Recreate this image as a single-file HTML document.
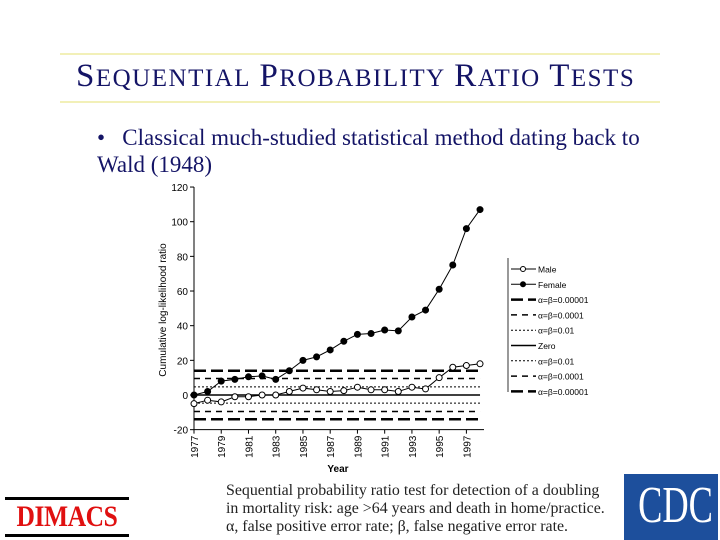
<!DOCTYPE html>
<html><head><meta charset="utf-8"><style>
body{margin:0;width:720px;height:540px;background:#fff;overflow:hidden;position:relative;font-family:"Liberation Serif",serif}
.ab{position:absolute}
.cap{font-size:33px}
.sm{font-size:25px}
</style></head><body>
<div class="ab" style="left:60px;top:53px;width:600px;height:2px;background:#f2f0b8"></div>
<div class="ab" style="left:60px;top:101px;width:600px;height:2px;background:#f2f0b8"></div>
<div class="ab" style="left:76px;top:57px;color:#141466;white-space:nowrap;line-height:38px;letter-spacing:1.5px;word-spacing:3px"><span class="cap">S</span><span class="sm">EQUENTIAL</span> <span class="cap">P</span><span class="sm">ROBABILITY</span> <span class="cap">R</span><span class="sm">ATIO</span> <span class="cap">T</span><span class="sm">ESTS</span></div>
<div class="ab" style="left:97px;top:124px;font-size:23px;color:#141466;line-height:27px;white-space:nowrap">•&nbsp;&nbsp; Classical much-studied statistical method dating back to<br>Wald (1948)</div>

<svg class="ab" style="left:0;top:0" width="720" height="540">
<g id="chart" font-family="Liberation Sans, sans-serif"></g>
</svg>

<div class="ab" style="left:226px;top:482px;font-size:15.9px;line-height:18px;color:#222;white-space:nowrap">Sequential probability ratio test for detection of a doubling<br>in mortality risk: age &gt;64 years and death in home/practice.<br>α, false positive error rate; β, false negative error rate.</div>

<div class="ab" style="left:5px;top:497px;width:124px;height:40px">
<div style="position:absolute;top:0;left:0;width:124px;height:3px;background:#000"></div>
<div style="position:absolute;top:4px;left:0;width:124px;text-align:center;font-size:30px;color:#e01010;font-weight:bold;line-height:32px;letter-spacing:-0.5px;transform:scaleX(0.85)">DIMACS</div>
<div style="position:absolute;top:37px;left:0;width:124px;height:3px;background:#000"></div>
</div>
<div class="ab" style="left:624px;top:474px;width:94px;height:66px;background:#1d4f9c;overflow:hidden">
<div style="position:absolute;left:0;top:2px;width:94px;text-align:center;font-size:52px;color:#fff;font-family:'Liberation Serif',serif;transform:scaleX(0.7);line-height:60px">CDC</div>
</div>

<script>
const years=[1977,1978,1979,1980,1981,1982,1983,1984,1985,1986,1987,1988,1989,1990,1991,1992,1993,1994,1995,1996,1997,1998];
const female=[0,2,8,9,10.5,11,9,14,20,22,26,31,35,35.5,37.5,37,45,49,61,75,96,107];
const male=[-5,-3,-4,-1,-1,0,0,2,4,3,2,2.5,4.5,3,3,2,4.5,3.5,10,16,17,18];
const thresholds=[14,9.5,4.7,0,-4.7,-9.5,-14];
const yTicks=[120,100,80,60,40,20,0,-20];
const xTickLabels=[1977,1979,1981,1983,1985,1987,1989,1991,1993,1995,1997];
const legendLabels=["Male","Female","α=β=0.00001","α=β=0.0001","α=β=0.01","Zero","α=β=0.01","α=β=0.0001","α=β=0.00001"];
const NS="http://www.w3.org/2000/svg";
const g=document.getElementById('chart');
const X=y=>194+(y-1977)*13.62;
const Y=v=>395-v*1.733;
function mk(t,a){const e=document.createElementNS(NS,t);for(const k in a)e.setAttribute(k,a[k]);g.appendChild(e);return e;}
const styles=[{w:2.5,d:"12,5"},{w:1.5,d:"6,5"},{w:1,d:"2,2"},{w:1.5,d:""},{w:1,d:"2,2"},{w:1.5,d:"6,5"},{w:2.5,d:"12,5"}];
let e=mk('line',{x1:194,y1:Y(120),x2:194,y2:Y(-20),stroke:'#000','stroke-width':1});

e=mk('line',{x1:194,y1:Y(-20),x2:484,y2:Y(-20),stroke:'#000','stroke-width':1});

yTicks.forEach(v=>{mk('line',{x1:190,y1:Y(v),x2:194,y2:Y(v),stroke:'#000'});
 e=mk('text',{x:188,y:Y(v)+4,'text-anchor':'end','font-size':10});e.textContent=v;
 });
xTickLabels.forEach(v=>{mk('line',{x1:X(v),y1:Y(-20),x2:X(v),y2:Y(-20)+4,stroke:'#000'});
 e=mk('text',{x:X(v)+4,y:Y(-20)+6,'text-anchor':'end','font-size':10,transform:`rotate(-90 ${X(v)+4} ${Y(-20)+6})`});e.textContent=v;
 });
e=mk('text',{x:338,y:472,'text-anchor':'middle','font-size':10,'font-weight':'bold'});e.textContent='Year';

e=mk('text',{x:166,y:310,'text-anchor':'middle','font-size':10,transform:'rotate(-90 166 310)'});e.textContent='Cumulative log-likelihood ratio';

thresholds.forEach((t,i)=>{e=mk('line',{x1:194,y1:Y(t),x2:X(1998),y2:Y(t),stroke:'#000','stroke-width':styles[i].w,'stroke-dasharray':styles[i].d});
 });
function series(vals,fill,name){
 e=mk('polyline',{points:vals.map((v,i)=>X(years[i])+','+Y(v)).join(' '),fill:'none',stroke:'#000','stroke-width':1});
 
 vals.forEach((v,i)=>{e=mk('circle',{cx:X(years[i]),cy:Y(v),r:3,fill:fill,stroke:'#000','stroke-width':1});
  });
}
series(male,'#fff','male');series(female,'#000','female');
e=mk('line',{x1:508,y1:258,x2:508,y2:392,stroke:'#000','stroke-width':0.8});

const lstyles=[null,null,styles[0],styles[1],styles[2],styles[3],styles[4],styles[5],styles[6]];
legendLabels.forEach((l,i)=>{const y=269+i*15.3;
 const s=lstyles[i];
 mk('line',{x1:511,y1:y,x2:536,y2:y,stroke:'#000','stroke-width':s?s.w:1,'stroke-dasharray':s?s.d:''});
 if(!s)mk('circle',{cx:523,cy:y,r:2.5,fill:i==0?'#fff':'#000',stroke:'#000'});
 e=mk('text',{x:538,y:y+3.5,'font-size':8.5});e.textContent=l;
 });
</script>
</body></html>
